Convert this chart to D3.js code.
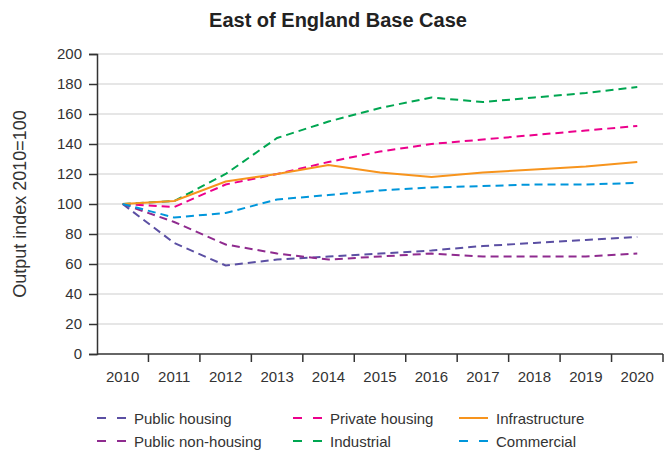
<!DOCTYPE html>
<html>
<head>
<meta charset="utf-8">
<script src="https://d3js.org/d3.v7.min.js"></script>
<style>
  body { margin: 0; background: #fff; }
  text { font-family: "Liberation Sans", Arial, sans-serif; }
</style>
</head>
<body>
<div id="chart"></div>
<script>
const years = ['2010', '2011', '2012', '2013', '2014', '2015', '2016', '2017', '2018', '2019', '2020'];
const yTicks = [0, 20, 40, 60, 80, 100, 120, 140, 160, 180, 200];

const publicHousing    = [100, 74, 59, 63, 65, 67, 69, 72, 74, 76, 78];
const publicNonHousing = [100, 88, 73, 67, 63, 65, 67, 65, 65, 65, 67];
const privateHousing   = [100, 98, 113, 120, 128, 135, 140, 143, 146, 149, 152];
const industrial       = [100, 102, 120, 144, 155, 164, 171, 168, 171, 174, 178];
const infrastructure   = [100, 102, 115, 120, 126, 121, 118, 121, 123, 125, 128];
const commercial       = [100, 91, 94, 103, 106, 109, 111, 112, 113, 113, 114];

const series = [
    { name: 'Public housing', values: publicHousing, color: '#5b4fa3', dashed: true, col: 0, row: 0 },
    { name: 'Public non-housing', values: publicNonHousing, color: '#8f2b8f', dashed: true, col: 0, row: 1 },
    { name: 'Private housing', values: privateHousing, color: '#ec008c', dashed: true, col: 1, row: 0 },
    { name: 'Industrial', values: industrial, color: '#00a651', dashed: true, col: 1, row: 1 },
    { name: 'Infrastructure', values: infrastructure, color: '#f7941d', dashed: false, col: 2, row: 0 },
    { name: 'Commercial', values: commercial, color: '#0096db', dashed: true, col: 2, row: 1 }
];

const width = 671, height = 450;
const plotLeft = 97, plotRight = 663, plotTop = 54, plotBottom = 354;

const svg = d3.select('#chart').append('svg')
    .attr('width', width)
    .attr('height', height);

const x = d3.scaleBand().domain(years).range([plotLeft, plotRight]);
const y = d3.scaleLinear().domain([0, 200]).range([plotBottom, plotTop]);

// gridlines
svg.append('g')
    .selectAll('line')
    .data(yTicks.filter(d => d > 0))
    .enter().append('line')
        .attr('x1', plotLeft)
        .attr('x2', plotRight)
        .attr('y1', d => y(d))
        .attr('y2', d => y(d))
        .style('stroke', '#e6e6e6')
        .style('stroke-width', 2);

// y axis
const yAxis = svg.append('g')
    .attr('transform', `translate(${plotLeft},0)`)
    .call(d3.axisLeft(y).tickValues(yTicks).tickSize(8).tickPadding(7));
yAxis.select('.domain').style('stroke', '#333').style('stroke-width', 1.5);
yAxis.selectAll('.tick line').style('stroke', '#333').style('stroke-width', 1.5);
yAxis.selectAll('.tick text')
    .style('font-size', '15px')
    .style('fill', '#333')
    .style('font-family', '"Liberation Sans", Arial, sans-serif');

// x axis: ticks at band boundaries
const xAxis = svg.append('g')
    .attr('transform', `translate(0,${plotBottom})`);
xAxis.append('line')
    .attr('x1', plotLeft).attr('x2', plotRight)
    .style('stroke', '#333').style('stroke-width', 1.5);
xAxis.selectAll('.xtick')
    .data(years)
    .enter().append('line')
        .attr('class', 'xtick')
        .attr('x1', d => x(d) + x.bandwidth())
        .attr('x2', d => x(d) + x.bandwidth())
        .attr('y1', 0)
        .attr('y2', 8)
        .style('stroke', '#333').style('stroke-width', 1.5);
xAxis.selectAll('.xlabel')
    .data(years)
    .enter().append('text')
        .attr('class', 'xlabel')
        .attr('x', d => x(d) + x.bandwidth() / 2)
        .attr('y', 28)
        .attr('text-anchor', 'middle')
        .style('font-size', '15px')
        .style('fill', '#333')
        .text(d => d);

// y label
svg.append('text')
    .attr('transform', `translate(26,${(plotTop + plotBottom) / 2}) rotate(-90)`)
    .attr('text-anchor', 'middle')
    .style('font-size', '18px')
    .style('fill', '#333')
    .text('Output index 2010=100');

// title
svg.append('text')
    .attr('x', 338)
    .attr('y', 27)
    .attr('text-anchor', 'middle')
    .style('font-size', '20px')
    .style('font-weight', 'bold')
    .style('fill', '#222')
    .text('East of England Base Case');

// lines
const line = d3.line()
    .x((d, i) => x(years[i]) + x.bandwidth() / 2)
    .y(d => y(d));

svg.append('g')
    .selectAll('path')
    .data(series)
    .enter().append('path')
        .attr('d', d => line(d.values))
        .style('fill', 'none')
        .style('stroke', d => d.color)
        .style('stroke-width', 2)
        .style('stroke-dasharray', d => d.dashed ? '8,5' : null);

// legend
const colX = [97, 293, 459];
const rowY = [418, 441];
const legend = svg.append('g')
    .selectAll('g')
    .data(series)
    .enter().append('g')
        .attr('transform', d => `translate(${colX[d.col]},${rowY[d.row]})`);

legend.append('line')
    .attr('x1', 0).attr('x2', 29)
    .attr('y1', 0).attr('y2', 0)
    .style('stroke', d => d.color)
    .style('stroke-width', 2)
    .style('stroke-dasharray', d => d.dashed ? '9,11' : null);

legend.append('text')
    .attr('x', 37)
    .attr('y', 5.5)
    .style('font-size', '15px')
    .style('fill', '#333')
    .text(d => d.name);
</script>
</body>
</html>
